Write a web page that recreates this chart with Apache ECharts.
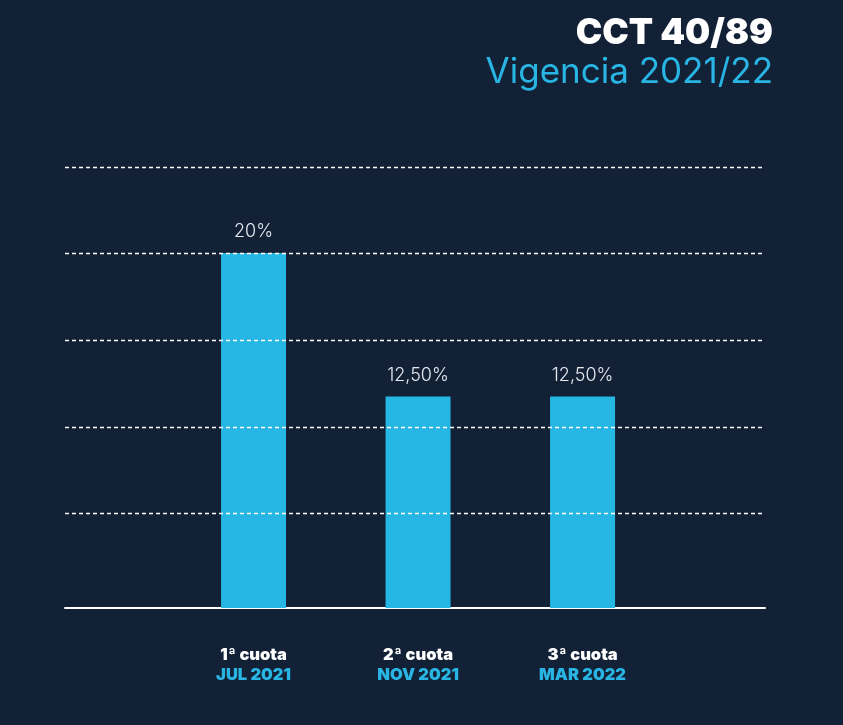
<!DOCTYPE html>
<html>
<head>
<meta charset="utf-8">
<script src="https://cdn.jsdelivr.net/npm/echarts@6/dist/echarts.min.js"></script>
<style>
html,body{margin:0;padding:0;background:#132137;}
#c{width:843px;height:725px;}
</style>
</head>
<body>
<div id="c"></div>
<script>
const categories = ['1ª cuota', '2ª cuota', '3ª cuota'];
const periods = ['JUL 2021', 'NOV 2021', 'MAR 2022'];
const positions = [1, 2, 3];
const values = [20, 12.5, 12.5];
const valueLabels = ['20%', '12,50%', '12,50%'];
const gridValues = [6.4, 10.9, 15.45, 20, 24.5];

const chart = echarts.init(document.getElementById('c'));
const fontFam = 'Inter, "Open Sans", sans-serif';
chart.setOption({
  backgroundColor: '#132137',
  title: [{
    text: 'CCT 40/89',
    right: 65, top: 10,
    textStyle: {color: '#ffffff', fontSize: 35.5, fontWeight: 900, fontFamily: fontFam}
  }, {
    text: 'Vigencia 2021/22',
    right: 65, top: 50,
    textStyle: {color: '#29b5e3', fontSize: 35, fontWeight: 400, fontFamily: fontFam}
  }],
  grid: {left: 65, right: 78, top: 167, bottom: 117},
  xAxis: {
    type: 'value', min: -0.146, max: 4.109,
    splitLine: {show: false},
    axisTick: {show: false},
    axisLine: {show: true, lineStyle: {color: '#ffffff', width: 2}},
    axisLabel: {
      customValues: positions,
      margin: 37,
      formatter: function (v) {
        const i = positions.indexOf(v);
        return '{a|' + categories[i] + '}\n{b|' + periods[i] + '}';
      },
      rich: {
        a: {color: '#ffffff', fontSize: 16.5, fontWeight: 900, fontFamily: fontFam, lineHeight: 20},
        b: {color: '#29b5e3', fontSize: 16.5, fontWeight: 900, fontFamily: fontFam, lineHeight: 20}
      }
    }
  },
  yAxis: {
    type: 'value', min: 1.43, max: 24.5,
    show: false,
    splitLine: {show: false}
  },
  series: [{
    type: 'bar',
    barWidth: 65,
    data: positions.map((p, i) => [p, values[i]]),
    itemStyle: {color: '#25b6e3'},
    label: {
      show: true, position: 'top', distance: 12,
      formatter: p => valueLabels[p.dataIndex],
      color: '#e6e9ee', fontSize: 18, fontWeight: 300, fontFamily: fontFam
    },
    markLine: {
      silent: true, symbol: 'none', label: {show: false},
      lineStyle: {color: '#ffffff', type: [4, 3], width: 1.4},
      data: gridValues.map(v => ({yAxis: v}))
    },
    z: 3
  }]
});
</script>
</body>
</html>
